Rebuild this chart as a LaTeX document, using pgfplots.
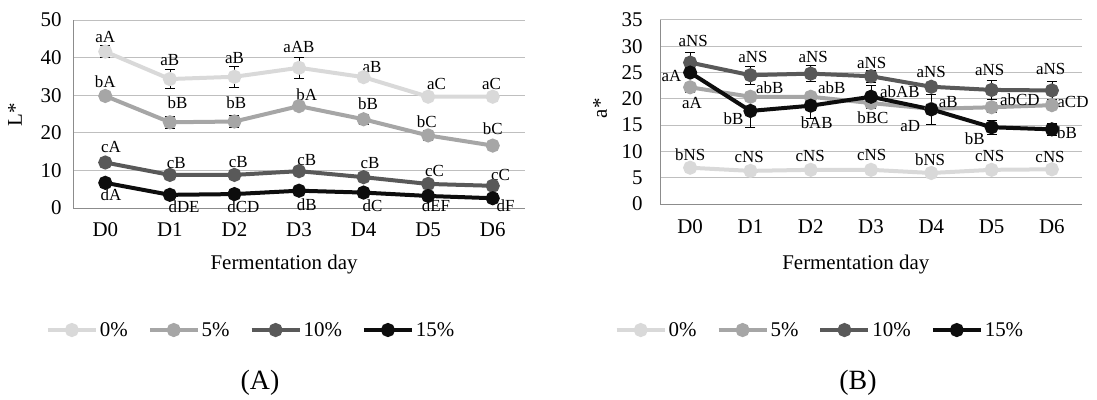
\documentclass[border=0pt]{standalone}
\usepackage{fontspec}
\setmainfont{Liberation Serif}
\usepackage{pgfplots}
\pgfplotsset{compat=1.18}
\definecolor{cz}{HTML}{D9D9D9}
\definecolor{cf}{HTML}{A6A6A6}
\definecolor{ct}{HTML}{595959}
\definecolor{cx}{HTML}{0D0D0D}
\definecolor{gridc}{HTML}{BFBFBF}
\definecolor{axc}{HTML}{8C8C8C}
\newcommand{\tk}{\fontsize{21}{24}\selectfont}
\newcommand{\lb}{\fontsize{17}{19}\selectfont}
\tikzset{lab/.style={font=\lb, inner sep=0pt, anchor=center}}
\pgfplotsset{
  common/.style={
    scale only axis, clip=false,
    xmin=-0.5, xmax=6.5, ymin=0,
    xtick={0,...,6}, xticklabels={D0,D1,D2,D3,D4,D5,D6},
    axis x line*=bottom, axis y line*=left,
    axis line style={axc, line width=1bp},
    major tick length=0pt,
    ymajorgrids, grid style={gridc, line width=1bp},
    tick label style={font=\tk},
    label style={font=\tk},
    /pgf/number format/assume math mode=true,
    legend columns=4,
    legend style={draw=none, fill=none, font=\tk, anchor=center,
      /tikz/every even column/.append style={column sep=18bp}},
    legend image code/.code={\draw[mark repeat=2,mark phase=2,#1] plot coordinates {(0bp,0bp) (24bp,0bp) (48bp,0bp)};},
    every axis plot/.append style={line width=4bp, mark=*, mark size=5bp,
      error bars/y dir=both, error bars/y explicit,
      error bars/error bar style={black, line width=0.7bp},
      error bars/error mark options={black, rotate=90, mark size=5bp, line width=0.7bp}},
  },
}
\begin{document}
\begin{tikzpicture}[x=1bp,y=1bp]
\useasboundingbox (0,0) rectangle (1097,399);
% ---------------- Panel A ----------------
\begin{axis}[common, at={(73bp,191bp)}, anchor=south west,
  width=452bp, height=188bp, ymax=50, ytick={0,10,...,50},
  yticklabel style={xshift=-8bp}, xticklabel style={yshift=-11bp},
  xlabel={Fermentation day}, ylabel={L*},
  xlabel style={at={(axis description cs:0.467,-0.30)}, anchor=center},
  ylabel style={at={(axis description cs:-0.128,0.495)}, anchor=center},
  legend style={at={(axis description cs:0.394,-0.649)}}]
\addplot[cz, mark options={cz}] coordinates {(0,41.6)+-(0,1.6) (1,34.3)+-(0,2.5) (2,34.9)+-(0,2.9) (3,37.3)+-(0,2.7) (4,34.8)+-(0,0.4) (5,29.6)+-(0,0.3) (6,29.6)+-(0,0.3)};
\addplot[cf, mark options={cf}] coordinates {(0,29.8)+-(0,1.0) (1,22.8)+-(0,1.5) (2,23.0)+-(0,1.6) (3,27.1)+-(0,0.5) (4,23.6)+-(0,1.3) (5,19.3)+-(0,1.4) (6,16.6)+-(0,0.4)};
\addplot[ct, mark options={ct}] coordinates {(0,12.1)+-(0,0.5) (1,8.8)+-(0,0.4) (2,8.8)+-(0,0.4) (3,9.8)+-(0,0.5) (4,8.2)+-(0,0.4) (5,6.4)+-(0,0.4) (6,5.9)+-(0,0.4)};
\addplot[cx, mark options={cx}] coordinates {(0,6.7)+-(0,0.4) (1,3.5)+-(0,0.3) (2,3.7)+-(0,0.3) (3,4.6)+-(0,0.3) (4,4.1)+-(0,0.3) (5,3.2)+-(0,0.3) (6,2.6)+-(0,0.3)};
\legend{0\%,5\%,10\%,15\%}
% labels 0%
\node[lab] at (axis cs:0,45.5) {aA};
\node[lab] at (axis cs:1,39.4) {aB};
\node[lab] at (axis cs:2,39.9) {aB};
\node[lab] at (axis cs:3,42.8) {aAB};
\node[lab] at (axis cs:4.13,37.5) {aB};
\node[lab] at (axis cs:5.13,33.0) {aC};
\node[lab] at (axis cs:5.98,33.0) {aC};
% labels 5%
\node[lab] at (axis cs:0,33.5) {bA};
\node[lab] at (axis cs:1.12,27.9) {bB};
\node[lab] at (axis cs:2.03,27.9) {bB};
\node[lab] at (axis cs:3.12,30.0) {bA};
\node[lab] at (axis cs:4.07,27.7) {bB};
\node[lab] at (axis cs:4.98,22.9) {bC};
\node[lab] at (axis cs:6.0,21.0) {bC};
% labels 10%
\node[lab] at (axis cs:0.09,16.2) {cA};
\node[lab] at (axis cs:1.1,12.0) {cB};
\node[lab] at (axis cs:2.06,12.2) {cB};
\node[lab] at (axis cs:3.12,12.8) {cB};
\node[lab] at (axis cs:4.1,12.0) {cB};
\node[lab] at (axis cs:5.1,9.8) {cC};
\node[lab] at (axis cs:6.12,8.8) {cC};
% labels 15%
\node[lab] at (axis cs:0.09,3.5) {dA};
\node[lab] at (axis cs:1.22,0.27) {dDE};
\node[lab] at (axis cs:2.14,0.27) {dCD};
\node[lab] at (axis cs:3.12,0.8) {dB};
\node[lab] at (axis cs:4.14,0.5) {dC};
\node[lab] at (axis cs:5.12,0.5) {dEF};
\node[lab] at (axis cs:6.2,0.5) {dF};
\end{axis}
% ---------------- Panel B ----------------
\begin{axis}[common, at={(660bp,195bp)}, anchor=south west,
  width=422bp, height=184bp, ymax=35, ytick={0,5,...,35},
  yticklabel style={xshift=-14bp}, xticklabel style={yshift=-12bp},
  xlabel={Fermentation day}, ylabel={a*},
  xlabel style={at={(axis description cs:0.464,-0.33)}, anchor=center},
  ylabel style={at={(axis description cs:-0.142,0.52)}, anchor=center},
  legend style={at={(axis description cs:0.379,-0.685)}}]
\addplot[cz, mark options={cz}] coordinates {(0,6.9)+-(0,0.5) (1,6.3)+-(0,0.3) (2,6.5)+-(0,0.3) (3,6.5)+-(0,0.4) (4,5.9)+-(0,0.2) (5,6.5)+-(0,0.3) (6,6.6)+-(0,0.3)};
\addplot[cf, mark options={cf}] coordinates {(0,22.2)+-(0,1.0) (1,20.4)+-(0,0.5) (2,20.4)+-(0,0.5) (3,19.2)+-(0,1.0) (4,18.1)+-(0,0.5) (5,18.4)+-(0,1.0) (6,18.8)+-(0,0.5)};
\addplot[ct, mark options={ct}] coordinates {(0,26.9)+-(0,1.9) (1,24.5)+-(0,1.7) (2,24.8)+-(0,1.5) (3,24.3)+-(0,1.2) (4,22.3)+-(0,0.5) (5,21.7)+-(0,1.8) (6,21.6)+-(0,1.7)};
\addplot[cx, mark options={cx}] coordinates {(0,25.0)+-(0,0.5) (1,17.7)+-(0,3.2) (2,18.7)+-(0,2.4) (3,20.4)+-(0,2.1) (4,18.0)+-(0,2.8) (5,14.6)+-(0,1.3) (6,14.2)+-(0,1.1)};
\legend{0\%,5\%,10\%,15\%}
% labels 10%
\node[lab] at (axis cs:0.05,31.1) {aNS};
\node[lab] at (axis cs:1.04,28.0) {aNS};
\node[lab] at (axis cs:2.04,28.0) {aNS};
\node[lab] at (axis cs:3.01,26.8) {aNS};
\node[lab] at (axis cs:4.0,25.2) {aNS};
\node[lab] at (axis cs:4.97,25.5) {aNS};
\node[lab] at (axis cs:5.98,25.7) {aNS};
% labels 5%
\node[lab] at (axis cs:0.03,19.3) {aA};
\node[lab] at (axis cs:1.32,22.1) {abB};
\node[lab] at (axis cs:2.35,22.1) {abB};
\node[lab] at (axis cs:3.48,21.4) {abAB};
\node[lab] at (axis cs:4.28,19.3) {aB};
\node[lab] at (axis cs:5.47,19.8) {abCD};
\node[lab] at (axis cs:6.35,19.5) {aCD};
% labels 15%
\node[lab] at (axis cs:-0.31,24.3) {aA};
\node[lab] at (axis cs:0.72,16.3) {bB};
\node[lab] at (axis cs:2.1,15.5) {bAB};
\node[lab] at (axis cs:3.03,16.5) {bBC};
\node[lab] at (axis cs:3.65,14.8) {aD};
\node[lab] at (axis cs:4.72,12.5) {bB};
\node[lab] at (axis cs:6.25,13.6) {bB};
% labels 0%
\node[lab] at (axis cs:0,9.3) {bNS};
\node[lab] at (axis cs:0.98,8.9) {cNS};
\node[lab] at (axis cs:1.99,9.1) {cNS};
\node[lab] at (axis cs:3.01,9.3) {cNS};
\node[lab] at (axis cs:3.98,8.4) {bNS};
\node[lab] at (axis cs:4.97,9.1) {cNS};
\node[lab] at (axis cs:5.97,9.0) {cNS};
\end{axis}
\node[font=\fontsize{28}{32}\selectfont] at (260,16) {(A)};
\node[font=\fontsize{28}{32}\selectfont] at (858,16) {(B)};
\end{tikzpicture}
\end{document}
